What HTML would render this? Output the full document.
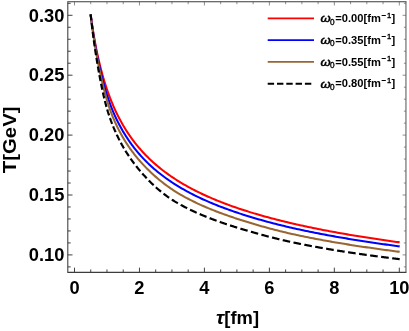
<!DOCTYPE html>
<html><head><meta charset="utf-8"><title>chart</title>
<style>
html,body{margin:0;padding:0;background:#fff;}
body{width:409px;height:331px;overflow:hidden;position:relative;font-family:"Liberation Sans",sans-serif;}
svg text{font-family:"Liberation Sans",sans-serif;font-weight:bold;fill:#000;}
.tk{font-size:18.3px;}
.lg{font-size:11.15px;}
.tl{stroke:#383838;stroke-width:0.95;}
.tr{stroke:#6a6a6a;stroke-width:0.75;}
</style></head><body>
<svg width="409" height="331" viewBox="0 0 409 331" style="position:absolute;left:0;top:0;opacity:0.999;will-change:transform">
<rect width="409" height="331" fill="#fff"/>
<line x1="67.8" y1="266.88" x2="70.70" y2="266.88" class="tl"/>
<line x1="405.95" y1="266.88" x2="403.86" y2="266.88" class="tr"/>
<line x1="67.8" y1="254.90" x2="72.50" y2="254.90" class="tl"/>
<line x1="405.95" y1="254.90" x2="402.57" y2="254.90" class="tr"/>
<line x1="67.8" y1="242.92" x2="70.70" y2="242.92" class="tl"/>
<line x1="405.95" y1="242.92" x2="403.86" y2="242.92" class="tr"/>
<line x1="67.8" y1="230.94" x2="70.70" y2="230.94" class="tl"/>
<line x1="405.95" y1="230.94" x2="403.86" y2="230.94" class="tr"/>
<line x1="67.8" y1="218.96" x2="70.70" y2="218.96" class="tl"/>
<line x1="405.95" y1="218.96" x2="403.86" y2="218.96" class="tr"/>
<line x1="67.8" y1="206.98" x2="70.70" y2="206.98" class="tl"/>
<line x1="405.95" y1="206.98" x2="403.86" y2="206.98" class="tr"/>
<line x1="67.8" y1="195.00" x2="72.50" y2="195.00" class="tl"/>
<line x1="405.95" y1="195.00" x2="402.57" y2="195.00" class="tr"/>
<line x1="67.8" y1="183.02" x2="70.70" y2="183.02" class="tl"/>
<line x1="405.95" y1="183.02" x2="403.86" y2="183.02" class="tr"/>
<line x1="67.8" y1="171.04" x2="70.70" y2="171.04" class="tl"/>
<line x1="405.95" y1="171.04" x2="403.86" y2="171.04" class="tr"/>
<line x1="67.8" y1="159.06" x2="70.70" y2="159.06" class="tl"/>
<line x1="405.95" y1="159.06" x2="403.86" y2="159.06" class="tr"/>
<line x1="67.8" y1="147.08" x2="70.70" y2="147.08" class="tl"/>
<line x1="405.95" y1="147.08" x2="403.86" y2="147.08" class="tr"/>
<line x1="67.8" y1="135.10" x2="72.50" y2="135.10" class="tl"/>
<line x1="405.95" y1="135.10" x2="402.57" y2="135.10" class="tr"/>
<line x1="67.8" y1="123.12" x2="70.70" y2="123.12" class="tl"/>
<line x1="405.95" y1="123.12" x2="403.86" y2="123.12" class="tr"/>
<line x1="67.8" y1="111.14" x2="70.70" y2="111.14" class="tl"/>
<line x1="405.95" y1="111.14" x2="403.86" y2="111.14" class="tr"/>
<line x1="67.8" y1="99.16" x2="70.70" y2="99.16" class="tl"/>
<line x1="405.95" y1="99.16" x2="403.86" y2="99.16" class="tr"/>
<line x1="67.8" y1="87.18" x2="70.70" y2="87.18" class="tl"/>
<line x1="405.95" y1="87.18" x2="403.86" y2="87.18" class="tr"/>
<line x1="67.8" y1="75.20" x2="72.50" y2="75.20" class="tl"/>
<line x1="405.95" y1="75.20" x2="402.57" y2="75.20" class="tr"/>
<line x1="67.8" y1="63.22" x2="70.70" y2="63.22" class="tl"/>
<line x1="405.95" y1="63.22" x2="403.86" y2="63.22" class="tr"/>
<line x1="67.8" y1="51.24" x2="70.70" y2="51.24" class="tl"/>
<line x1="405.95" y1="51.24" x2="403.86" y2="51.24" class="tr"/>
<line x1="67.8" y1="39.26" x2="70.70" y2="39.26" class="tl"/>
<line x1="405.95" y1="39.26" x2="403.86" y2="39.26" class="tr"/>
<line x1="67.8" y1="27.28" x2="70.70" y2="27.28" class="tl"/>
<line x1="405.95" y1="27.28" x2="403.86" y2="27.28" class="tr"/>
<line x1="67.8" y1="15.30" x2="72.50" y2="15.30" class="tl"/>
<line x1="405.95" y1="15.30" x2="402.57" y2="15.30" class="tr"/>
<line x1="67.8" y1="3.32" x2="70.70" y2="3.32" class="tl"/>
<line x1="405.95" y1="3.32" x2="403.86" y2="3.32" class="tr"/>
<line x1="74.50" y1="272.35" x2="74.50" y2="267.65" class="tl"/>
<line x1="74.50" y1="1.7" x2="74.50" y2="5.48" class="tr"/>
<line x1="90.74" y1="272.35" x2="90.74" y2="269.45" class="tl"/>
<line x1="90.74" y1="1.7" x2="90.74" y2="4.19" class="tr"/>
<line x1="106.98" y1="272.35" x2="106.98" y2="269.45" class="tl"/>
<line x1="106.98" y1="1.7" x2="106.98" y2="4.19" class="tr"/>
<line x1="123.22" y1="272.35" x2="123.22" y2="269.45" class="tl"/>
<line x1="123.22" y1="1.7" x2="123.22" y2="4.19" class="tr"/>
<line x1="139.46" y1="272.35" x2="139.46" y2="267.65" class="tl"/>
<line x1="139.46" y1="1.7" x2="139.46" y2="5.48" class="tr"/>
<line x1="155.70" y1="272.35" x2="155.70" y2="269.45" class="tl"/>
<line x1="155.70" y1="1.7" x2="155.70" y2="4.19" class="tr"/>
<line x1="171.94" y1="272.35" x2="171.94" y2="269.45" class="tl"/>
<line x1="171.94" y1="1.7" x2="171.94" y2="4.19" class="tr"/>
<line x1="188.18" y1="272.35" x2="188.18" y2="269.45" class="tl"/>
<line x1="188.18" y1="1.7" x2="188.18" y2="4.19" class="tr"/>
<line x1="204.42" y1="272.35" x2="204.42" y2="267.65" class="tl"/>
<line x1="204.42" y1="1.7" x2="204.42" y2="5.48" class="tr"/>
<line x1="220.66" y1="272.35" x2="220.66" y2="269.45" class="tl"/>
<line x1="220.66" y1="1.7" x2="220.66" y2="4.19" class="tr"/>
<line x1="236.90" y1="272.35" x2="236.90" y2="269.45" class="tl"/>
<line x1="236.90" y1="1.7" x2="236.90" y2="4.19" class="tr"/>
<line x1="253.14" y1="272.35" x2="253.14" y2="269.45" class="tl"/>
<line x1="253.14" y1="1.7" x2="253.14" y2="4.19" class="tr"/>
<line x1="269.38" y1="272.35" x2="269.38" y2="267.65" class="tl"/>
<line x1="269.38" y1="1.7" x2="269.38" y2="5.48" class="tr"/>
<line x1="285.62" y1="272.35" x2="285.62" y2="269.45" class="tl"/>
<line x1="285.62" y1="1.7" x2="285.62" y2="4.19" class="tr"/>
<line x1="301.86" y1="272.35" x2="301.86" y2="269.45" class="tl"/>
<line x1="301.86" y1="1.7" x2="301.86" y2="4.19" class="tr"/>
<line x1="318.10" y1="272.35" x2="318.10" y2="269.45" class="tl"/>
<line x1="318.10" y1="1.7" x2="318.10" y2="4.19" class="tr"/>
<line x1="334.34" y1="272.35" x2="334.34" y2="267.65" class="tl"/>
<line x1="334.34" y1="1.7" x2="334.34" y2="5.48" class="tr"/>
<line x1="350.58" y1="272.35" x2="350.58" y2="269.45" class="tl"/>
<line x1="350.58" y1="1.7" x2="350.58" y2="4.19" class="tr"/>
<line x1="366.82" y1="272.35" x2="366.82" y2="269.45" class="tl"/>
<line x1="366.82" y1="1.7" x2="366.82" y2="4.19" class="tr"/>
<line x1="383.06" y1="272.35" x2="383.06" y2="269.45" class="tl"/>
<line x1="383.06" y1="1.7" x2="383.06" y2="4.19" class="tr"/>
<line x1="399.30" y1="272.35" x2="399.30" y2="267.65" class="tl"/>
<line x1="399.30" y1="1.7" x2="399.30" y2="5.48" class="tr"/>
<path d="M406.45,1.7 H67.8 V272.35 H406.45" fill="none" stroke="#3c3c3c" stroke-width="1.05"/>
<line x1="405.95" y1="1.7" x2="405.95" y2="272.35" stroke="#5a5a5a" stroke-width="1.05"/>
<path d="M90.62,14.38 L91.03,17.39 L91.44,20.30 L91.85,23.12 L92.26,25.85 L92.67,28.50 L93.08,31.07 L93.49,33.56 L93.90,35.98 L94.31,38.34 L94.72,40.63 L95.13,42.86 L95.54,45.03 L95.95,47.15 L96.36,49.21 L96.77,51.22 L97.18,53.18 L97.59,55.10 L98.00,56.97 L98.42,58.80 L98.83,60.59 L99.24,62.33 L99.65,64.04 L100.06,65.72 L100.47,67.35 L100.88,68.95 L101.29,70.52 L101.70,72.06 L102.11,73.57 L102.52,75.05 L102.93,76.50 L103.34,77.92 L103.75,79.31 L104.16,80.68 L104.57,82.02 L104.98,83.34 L105.39,84.64 L105.80,85.91 L106.21,87.16 L106.62,88.39 L107.03,89.60 L107.44,90.79 L107.86,91.96 L108.27,93.11 L108.68,94.24 L109.09,95.36 L109.50,96.45 L109.91,97.53 L110.32,98.60 L110.73,99.64 L111.14,100.67 L111.55,101.69 L111.96,102.69 L112.37,103.68 L112.78,104.65 L113.19,105.61 L113.60,106.55 L114.01,107.48 L114.42,108.40 L114.83,109.31 L115.24,110.20 L115.65,111.09 L116.06,111.96 L116.47,112.82 L116.89,113.66 L117.30,114.50 L117.71,115.33 L118.12,116.14 L118.53,116.95 L118.94,117.75 L119.35,118.53 L119.76,119.31 L120.17,120.08 L120.58,120.83 L120.99,121.58 L121.40,122.32 L121.81,123.06 L122.22,123.78 L122.63,124.49 L123.04,125.20 L123.45,125.90 L123.86,126.59 L124.27,127.28 L124.68,127.95 L125.09,128.62 L125.50,129.28 L125.92,129.94 L126.33,130.59 L126.74,131.23 L127.15,131.86 L127.56,132.49 L127.97,133.11 L128.38,133.73 L128.79,134.33 L129.20,134.94 L129.61,135.53 L130.02,136.13 L130.43,136.71 L130.84,137.29 L131.25,137.86 L131.66,138.43 L132.07,138.99 L132.48,139.55 L132.89,140.10 L133.30,140.65 L133.71,141.19 L134.12,141.73 L134.53,142.26 L134.95,142.79 L135.36,143.31 L135.77,143.83 L136.18,144.34 L136.59,144.85 L137.00,145.36 L137.41,145.86 L137.82,146.35 L138.23,146.84 L138.64,147.33 L139.05,147.81 L139.46,148.29 L141.10,150.16 L142.73,151.97 L144.37,153.72 L146.01,155.42 L147.64,157.07 L149.28,158.67 L150.92,160.22 L152.55,161.73 L154.19,163.20 L155.83,164.63 L157.46,166.02 L159.10,167.38 L160.74,168.70 L162.37,169.98 L164.01,171.24 L165.65,172.46 L167.28,173.66 L168.92,174.83 L170.56,175.97 L172.19,177.09 L173.83,178.18 L175.47,179.24 L177.10,180.29 L178.74,181.31 L180.38,182.31 L182.01,183.30 L183.65,184.26 L185.29,185.20 L186.92,186.12 L188.56,187.03 L190.20,187.92 L191.83,188.79 L193.47,189.65 L195.11,190.49 L196.74,191.31 L198.38,192.13 L200.02,192.92 L201.65,193.71 L203.29,194.48 L204.93,195.23 L206.56,195.98 L208.20,196.71 L209.84,197.43 L211.47,198.14 L213.11,198.84 L214.75,199.52 L216.38,200.20 L218.02,200.87 L219.66,201.52 L221.29,202.17 L222.93,202.80 L224.57,203.43 L226.20,204.05 L227.84,204.66 L229.48,205.26 L231.11,205.85 L232.75,206.44 L234.39,207.01 L236.02,207.58 L237.66,208.14 L239.30,208.69 L240.93,209.24 L242.57,209.78 L244.21,210.31 L245.84,210.84 L247.48,211.35 L249.12,211.87 L250.75,212.37 L252.39,212.87 L254.03,213.36 L255.66,213.85 L257.30,214.33 L258.94,214.81 L260.57,215.28 L262.21,215.74 L263.85,216.20 L265.48,216.66 L267.12,217.11 L268.76,217.55 L270.39,217.99 L272.03,218.42 L273.67,218.85 L275.30,219.28 L276.94,219.70 L278.58,220.11 L280.21,220.52 L281.85,220.93 L283.49,221.33 L285.12,221.73 L286.76,222.12 L288.40,222.51 L290.03,222.90 L291.67,223.28 L293.31,223.66 L294.94,224.04 L296.58,224.41 L298.22,224.77 L299.85,225.14 L301.49,225.50 L303.13,225.86 L304.76,226.21 L306.40,226.56 L308.04,226.91 L309.67,227.25 L311.31,227.59 L312.95,227.93 L314.58,228.26 L316.22,228.59 L317.86,228.92 L319.49,229.25 L321.13,229.57 L322.77,229.89 L324.40,230.21 L326.04,230.52 L327.68,230.83 L329.31,231.14 L330.95,231.45 L332.59,231.75 L334.22,232.05 L335.86,232.35 L337.50,232.64 L339.13,232.94 L340.77,233.23 L342.41,233.52 L344.04,233.80 L345.68,234.09 L347.32,234.37 L348.95,234.65 L350.59,234.93 L352.23,235.20 L353.86,235.48 L355.50,235.75 L357.14,236.01 L358.77,236.28 L360.41,236.55 L362.05,236.81 L363.68,237.07 L365.32,237.33 L366.96,237.58 L368.59,237.84 L370.23,238.09 L371.87,238.34 L373.50,238.59 L375.14,238.84 L376.78,239.09 L378.41,239.33 L380.05,239.57 L381.69,239.81 L383.32,240.05 L384.96,240.29 L386.60,240.52 L388.23,240.76 L389.87,240.99 L391.51,241.22 L393.14,241.45 L394.78,241.68 L396.42,241.90 L398.05,242.13 L399.69,242.35" fill="none" stroke="#ff0000" stroke-width="2.05" stroke-linejoin="round"/>
<path d="M90.62,14.38 L91.03,17.54 L91.44,20.65 L91.85,23.67 L92.26,26.59 L92.67,29.42 L93.08,32.17 L93.49,34.84 L93.90,37.43 L94.31,39.95 L94.72,42.40 L95.13,44.78 L95.54,47.10 L95.95,49.36 L96.36,51.57 L96.77,53.71 L97.18,55.81 L97.59,57.86 L98.00,59.86 L98.42,61.81 L98.83,63.72 L99.24,65.58 L99.65,67.42 L100.06,69.22 L100.47,70.98 L100.88,72.71 L101.29,74.41 L101.70,76.08 L102.11,77.71 L102.52,79.31 L102.93,80.89 L103.34,82.43 L103.75,83.94 L104.16,85.43 L104.57,86.88 L104.98,88.31 L105.39,89.71 L105.80,91.09 L106.21,92.44 L106.62,93.76 L107.03,95.06 L107.44,96.33 L107.86,97.58 L108.27,98.80 L108.68,100.01 L109.09,101.19 L109.50,102.34 L109.91,103.48 L110.32,104.59 L110.73,105.69 L111.14,106.76 L111.55,107.81 L111.96,108.85 L112.37,109.86 L112.78,110.86 L113.19,111.83 L113.60,112.79 L114.01,113.73 L114.42,114.66 L114.83,115.57 L115.24,116.46 L115.65,117.35 L116.06,118.22 L116.47,119.08 L116.89,119.93 L117.30,120.76 L117.71,121.59 L118.12,122.40 L118.53,123.21 L118.94,124.00 L119.35,124.79 L119.76,125.56 L120.17,126.33 L120.58,127.08 L120.99,127.83 L121.40,128.57 L121.81,129.29 L122.22,130.01 L122.63,130.72 L123.04,131.43 L123.45,132.12 L123.86,132.81 L124.27,133.49 L124.68,134.16 L125.09,134.82 L125.50,135.48 L125.92,136.13 L126.33,136.77 L126.74,137.41 L127.15,138.04 L127.56,138.66 L127.97,139.27 L128.38,139.88 L128.79,140.49 L129.20,141.08 L129.61,141.67 L130.02,142.26 L130.43,142.84 L130.84,143.41 L131.25,143.98 L131.66,144.54 L132.07,145.09 L132.48,145.64 L132.89,146.19 L133.30,146.73 L133.71,147.26 L134.12,147.79 L134.53,148.32 L134.95,148.84 L135.36,149.36 L135.77,149.87 L136.18,150.37 L136.59,150.87 L137.00,151.37 L137.41,151.86 L137.82,152.35 L138.23,152.83 L138.64,153.31 L139.05,153.79 L139.46,154.26 L141.10,156.10 L142.73,157.88 L144.37,159.60 L146.01,161.27 L147.64,162.89 L149.28,164.46 L150.92,165.98 L152.55,167.46 L154.19,168.90 L155.83,170.30 L157.46,171.67 L159.10,172.99 L160.74,174.28 L162.37,175.54 L164.01,176.77 L165.65,177.97 L167.28,179.14 L168.92,180.28 L170.56,181.39 L172.19,182.48 L173.83,183.55 L175.47,184.59 L177.10,185.61 L178.74,186.61 L180.38,187.58 L182.01,188.54 L183.65,189.48 L185.29,190.40 L186.92,191.30 L188.56,192.18 L190.20,193.05 L191.83,193.90 L193.47,194.74 L195.11,195.56 L196.74,196.36 L198.38,197.16 L200.02,197.93 L201.65,198.70 L203.29,199.45 L204.93,200.19 L206.56,200.92 L208.20,201.63 L209.84,202.33 L211.47,203.03 L213.11,203.71 L214.75,204.38 L216.38,205.04 L218.02,205.69 L219.66,206.33 L221.29,206.96 L222.93,207.58 L224.57,208.20 L226.20,208.80 L227.84,209.40 L229.48,209.99 L231.11,210.56 L232.75,211.14 L234.39,211.70 L236.02,212.26 L237.66,212.81 L239.30,213.35 L240.93,213.89 L242.57,214.42 L244.21,214.94 L245.84,215.46 L247.48,215.97 L249.12,216.48 L250.75,216.98 L252.39,217.47 L254.03,217.96 L255.66,218.45 L257.30,218.92 L258.94,219.40 L260.57,219.86 L262.21,220.33 L263.85,220.78 L265.48,221.23 L267.12,221.68 L268.76,222.12 L270.39,222.56 L272.03,222.99 L273.67,223.42 L275.30,223.84 L276.94,224.25 L278.58,224.67 L280.21,225.07 L281.85,225.48 L283.49,225.87 L285.12,226.27 L286.76,226.66 L288.40,227.04 L290.03,227.42 L291.67,227.80 L293.31,228.17 L294.94,228.54 L296.58,228.91 L298.22,229.27 L299.85,229.62 L301.49,229.97 L303.13,230.32 L304.76,230.67 L306.40,231.01 L308.04,231.35 L309.67,231.68 L311.31,232.02 L312.95,232.35 L314.58,232.67 L316.22,233.00 L317.86,233.32 L319.49,233.63 L321.13,233.95 L322.77,234.26 L324.40,234.57 L326.04,234.88 L327.68,235.18 L329.31,235.48 L330.95,235.78 L332.59,236.08 L334.22,236.37 L335.86,236.66 L337.50,236.95 L339.13,237.24 L340.77,237.52 L342.41,237.80 L344.04,238.08 L345.68,238.36 L347.32,238.63 L348.95,238.90 L350.59,239.17 L352.23,239.44 L353.86,239.71 L355.50,239.97 L357.14,240.23 L358.77,240.49 L360.41,240.75 L362.05,241.00 L363.68,241.26 L365.32,241.51 L366.96,241.76 L368.59,242.01 L370.23,242.25 L371.87,242.50 L373.50,242.74 L375.14,242.98 L376.78,243.22 L378.41,243.46 L380.05,243.69 L381.69,243.92 L383.32,244.16 L384.96,244.39 L386.60,244.61 L388.23,244.84 L389.87,245.07 L391.51,245.29 L393.14,245.51 L394.78,245.73 L396.42,245.95 L398.05,246.17 L399.69,246.39" fill="none" stroke="#0000ff" stroke-width="2.05" stroke-linejoin="round"/>
<path d="M90.62,14.38 L91.03,17.65 L91.44,20.93 L91.85,24.10 L92.26,27.17 L92.67,30.16 L93.08,33.06 L93.49,35.88 L93.90,38.62 L94.31,41.28 L94.72,43.88 L95.13,46.41 L95.54,48.87 L95.95,51.27 L96.36,53.61 L96.77,55.89 L97.18,58.12 L97.59,60.30 L98.00,62.42 L98.42,64.50 L98.83,66.53 L99.24,68.53 L99.65,70.49 L100.06,72.42 L100.47,74.33 L100.88,76.20 L101.29,78.04 L101.70,79.84 L102.11,81.62 L102.52,83.36 L102.93,85.07 L103.34,86.74 L103.75,88.39 L104.16,90.00 L104.57,91.57 L104.98,93.12 L105.39,94.63 L105.80,96.11 L106.21,97.56 L106.62,98.98 L107.03,100.37 L107.44,101.73 L107.86,103.06 L108.27,104.36 L108.68,105.62 L109.09,106.86 L109.50,108.07 L109.91,109.26 L110.32,110.41 L110.73,111.54 L111.14,112.64 L111.55,113.72 L111.96,114.76 L112.37,115.79 L112.78,116.79 L113.19,117.78 L113.60,118.76 L114.01,119.72 L114.42,120.66 L114.83,121.59 L115.24,122.50 L115.65,123.41 L116.06,124.29 L116.47,125.17 L116.89,126.03 L117.30,126.88 L117.71,127.71 L118.12,128.54 L118.53,129.35 L118.94,130.15 L119.35,130.95 L119.76,131.73 L120.17,132.50 L120.58,133.26 L120.99,134.01 L121.40,134.75 L121.81,135.48 L122.22,136.21 L122.63,136.92 L123.04,137.63 L123.45,138.32 L123.86,139.01 L124.27,139.69 L124.68,140.37 L125.09,141.03 L125.50,141.69 L125.92,142.34 L126.33,142.98 L126.74,143.62 L127.15,144.25 L127.56,144.87 L127.97,145.49 L128.38,146.09 L128.79,146.70 L129.20,147.29 L129.61,147.88 L130.02,148.47 L130.43,149.05 L130.84,149.62 L131.25,150.19 L131.66,150.75 L132.07,151.31 L132.48,151.86 L132.89,152.40 L133.30,152.94 L133.71,153.48 L134.12,154.01 L134.53,154.54 L134.95,155.06 L135.36,155.57 L135.77,156.09 L136.18,156.59 L136.59,157.10 L137.00,157.59 L137.41,158.09 L137.82,158.58 L138.23,159.07 L138.64,159.55 L139.05,160.03 L139.46,160.50 L141.10,162.36 L142.73,164.15 L144.37,165.90 L146.01,167.59 L147.64,169.23 L149.28,170.84 L150.92,172.40 L152.55,173.93 L154.19,175.42 L155.83,176.87 L157.46,178.28 L159.10,179.66 L160.74,181.01 L162.37,182.31 L164.01,183.59 L165.65,184.83 L167.28,186.03 L168.92,187.20 L170.56,188.34 L172.19,189.45 L173.83,190.53 L175.47,191.57 L177.10,192.59 L178.74,193.58 L180.38,194.53 L182.01,195.47 L183.65,196.38 L185.29,197.28 L186.92,198.16 L188.56,199.02 L190.20,199.86 L191.83,200.68 L193.47,201.49 L195.11,202.29 L196.74,203.07 L198.38,203.83 L200.02,204.58 L201.65,205.32 L203.29,206.05 L204.93,206.76 L206.56,207.46 L208.20,208.15 L209.84,208.83 L211.47,209.50 L213.11,210.15 L214.75,210.80 L216.38,211.44 L218.02,212.07 L219.66,212.69 L221.29,213.30 L222.93,213.90 L224.57,214.49 L226.20,215.07 L227.84,215.65 L229.48,216.22 L231.11,216.78 L232.75,217.33 L234.39,217.88 L236.02,218.42 L237.66,218.95 L239.30,219.48 L240.93,220.00 L242.57,220.52 L244.21,221.03 L245.84,221.54 L247.48,222.04 L249.12,222.55 L250.75,223.04 L252.39,223.54 L254.03,224.02 L255.66,224.51 L257.30,224.99 L258.94,225.46 L260.57,225.93 L262.21,226.40 L263.85,226.86 L265.48,227.31 L267.12,227.76 L268.76,228.21 L270.39,228.65 L272.03,229.08 L273.67,229.51 L275.30,229.93 L276.94,230.35 L278.58,230.77 L280.21,231.18 L281.85,231.58 L283.49,231.98 L285.12,232.37 L286.76,232.76 L288.40,233.14 L290.03,233.52 L291.67,233.89 L293.31,234.26 L294.94,234.62 L296.58,234.98 L298.22,235.33 L299.85,235.68 L301.49,236.02 L303.13,236.35 L304.76,236.69 L306.40,237.02 L308.04,237.34 L309.67,237.67 L311.31,237.99 L312.95,238.31 L314.58,238.62 L316.22,238.94 L317.86,239.24 L319.49,239.55 L321.13,239.86 L322.77,240.16 L324.40,240.45 L326.04,240.75 L327.68,241.04 L329.31,241.33 L330.95,241.62 L332.59,241.91 L334.22,242.19 L335.86,242.47 L337.50,242.75 L339.13,243.02 L340.77,243.30 L342.41,243.57 L344.04,243.84 L345.68,244.10 L347.32,244.37 L348.95,244.63 L350.59,244.89 L352.23,245.15 L353.86,245.40 L355.50,245.65 L357.14,245.91 L358.77,246.16 L360.41,246.40 L362.05,246.65 L363.68,246.89 L365.32,247.13 L366.96,247.37 L368.59,247.61 L370.23,247.85 L371.87,248.08 L373.50,248.32 L375.14,248.55 L376.78,248.78 L378.41,249.00 L380.05,249.23 L381.69,249.45 L383.32,249.68 L384.96,249.90 L386.60,250.11 L388.23,250.33 L389.87,250.55 L391.51,250.76 L393.14,250.98 L394.78,251.19 L396.42,251.40 L398.05,251.61 L399.69,251.81" fill="none" stroke="#996633" stroke-width="2.05" stroke-linejoin="round"/>
<path d="M90.62,14.38 L90.74,15.29 L90.86,16.40 L90.98,17.50 L91.11,18.58 L91.23,19.66 L91.31,20.39 M91.63,23.09 L91.72,23.87 L91.84,24.90 L91.96,25.92 L92.09,26.93 L92.21,27.93 L92.33,28.92 L92.35,29.09 M92.69,31.78 L92.70,31.84 L92.82,32.80 L92.94,33.75 L93.06,34.69 L93.19,35.62 L93.31,36.55 L93.43,37.47 L93.47,37.78 M93.84,40.47 L93.92,41.06 L94.04,41.94 L94.17,42.82 L94.29,43.68 L94.41,44.54 L94.53,45.40 L94.66,46.24 L94.69,46.47 M95.09,49.15 L95.15,49.56 L95.27,50.38 L95.39,51.18 L95.51,51.98 L95.64,52.78 L95.76,53.57 L95.88,54.35 L96.00,55.13 L96.00,55.14 M96.43,57.83 L96.49,58.19 L96.61,58.94 L96.74,59.68 L96.86,60.42 L96.98,61.16 L97.10,61.89 L97.23,62.62 L97.35,63.35 L97.43,63.81 M97.88,66.49 L97.96,66.94 L98.08,67.65 L98.21,68.35 L98.33,69.05 L98.45,69.75 L98.57,70.44 L98.70,71.13 L98.82,71.81 L98.93,72.46 M99.42,75.14 L99.43,75.19 L99.55,75.85 L99.68,76.51 L99.80,77.16 L99.92,77.82 L100.04,78.46 L100.16,79.11 L100.29,79.75 L100.41,80.38 L100.53,81.01 L100.55,81.11 M101.08,83.78 L101.14,84.11 L101.27,84.72 L101.39,85.32 L101.51,85.92 L101.63,86.51 L101.76,87.10 L101.88,87.69 L102.00,88.27 L102.12,88.85 L102.25,89.43 L102.31,89.74 M102.89,92.40 L102.98,92.79 L103.10,93.34 L103.23,93.88 L103.35,94.42 L103.47,94.95 L103.59,95.48 L103.71,96.01 L103.84,96.53 L103.96,97.05 L104.08,97.57 L104.20,98.08 L104.27,98.34 M104.92,101.00 L104.94,101.06 L105.06,101.54 L105.18,102.02 L105.31,102.50 L105.43,102.97 L105.55,103.44 L105.67,103.90 L105.80,104.36 L105.92,104.82 L106.04,105.27 L106.16,105.72 L106.29,106.17 L106.41,106.61 L106.49,106.90 M107.25,109.54 L107.26,109.60 L107.39,110.01 L107.51,110.42 L107.63,110.82 L107.75,111.23 L107.88,111.62 L108.00,112.02 L108.12,112.41 L108.24,112.80 L108.37,113.18 L108.49,113.56 L108.61,113.94 L108.73,114.31 L108.86,114.69 L108.98,115.05 L109.09,115.40 M109.99,118.01 L110.08,118.25 L110.20,118.60 L110.33,118.94 L110.45,119.29 L110.57,119.62 L110.69,119.96 L110.81,120.30 L110.94,120.63 L111.06,120.96 L111.18,121.29 L111.30,121.62 L111.43,121.95 L111.55,122.27 L111.67,122.59 L111.79,122.92 L111.92,123.24 L112.04,123.55 L112.14,123.80 M113.16,126.39 L113.26,126.64 L113.39,126.94 L113.51,127.23 L113.63,127.53 L113.75,127.83 L113.88,128.12 L114.00,128.41 L114.12,128.70 L114.24,128.99 L114.37,129.28 L114.49,129.57 L114.61,129.85 L114.73,130.14 L114.85,130.42 L114.98,130.70 L115.10,130.98 L115.22,131.26 L115.34,131.53 L115.47,131.81 L115.59,132.08 L115.60,132.11 M116.77,134.66 L116.81,134.76 L116.94,135.02 L117.06,135.28 L117.18,135.54 L117.30,135.79 L117.43,136.05 L117.55,136.31 L117.67,136.56 L117.79,136.81 L117.92,137.06 L118.04,137.31 L118.16,137.56 L118.28,137.81 L118.40,138.06 L118.53,138.31 L118.65,138.55 L118.77,138.80 L118.89,139.04 L119.02,139.28 L119.14,139.52 L119.26,139.76 L119.38,140.00 L119.51,140.24 L119.53,140.29 M120.85,142.80 L120.85,142.80 L120.98,143.03 L121.10,143.26 L121.22,143.48 L121.34,143.71 L121.47,143.93 L121.59,144.15 L121.71,144.38 L121.83,144.60 L121.95,144.82 L122.08,145.04 L122.20,145.26 L122.32,145.47 L122.44,145.69 L122.57,145.91 L122.69,146.12 L122.81,146.34 L122.93,146.55 L123.06,146.77 L123.18,146.98 L123.30,147.19 L123.42,147.40 L123.55,147.61 L123.67,147.82 L123.79,148.03 L123.91,148.24 L123.96,148.31 M125.44,150.76 L125.50,150.88 L125.63,151.08 L125.75,151.27 L125.87,151.47 L125.99,151.67 L126.12,151.86 L126.24,152.06 L126.36,152.25 L126.48,152.45 L126.61,152.64 L126.73,152.83 L126.85,153.02 L126.97,153.21 L127.10,153.40 L127.22,153.59 L127.34,153.78 L127.46,153.97 L127.59,154.16 L127.71,154.35 L127.83,154.54 L127.95,154.72 L128.08,154.91 L128.20,155.09 L128.32,155.28 L128.44,155.46 L128.57,155.65 L128.69,155.83 L128.81,156.01 L128.90,156.15 M130.54,158.54 L130.65,158.69 L130.77,158.86 L130.89,159.04 L131.01,159.21 L131.14,159.38 L131.26,159.56 L131.38,159.73 L131.50,159.90 L131.63,160.07 L131.75,160.24 L131.87,160.41 L131.99,160.58 L132.12,160.75 L132.24,160.92 L132.36,161.09 L132.48,161.25 L132.60,161.42 L132.73,161.59 L132.85,161.75 L132.97,161.92 L133.09,162.09 L133.22,162.25 L133.34,162.41 L133.46,162.58 L133.58,162.74 L133.71,162.91 L133.83,163.07 L133.95,163.23 L134.07,163.39 L134.20,163.55 L134.32,163.72 L134.37,163.78 M136.16,166.09 L136.28,166.24 L136.40,166.39 L136.52,166.55 L136.64,166.70 L136.77,166.86 L136.89,167.01 L137.01,167.16 L137.13,167.31 L137.26,167.47 L137.38,167.62 L137.50,167.77 L137.62,167.92 L137.75,168.07 L137.87,168.22 L137.99,168.37 L138.11,168.52 L138.24,168.67 L138.36,168.82 L138.48,168.97 L138.60,169.11 L138.73,169.26 L138.85,169.41 L138.97,169.56 L139.09,169.70 L139.22,169.85 L139.34,169.99 L139.46,170.14 L139.89,170.66 L140.33,171.17 L140.33,171.17 M142.27,173.42 L142.50,173.68 L142.94,174.17 L143.37,174.65 L143.80,175.14 L144.24,175.62 L144.67,176.10 L145.11,176.57 L145.54,177.04 L145.98,177.51 L146.41,177.97 L146.75,178.33 M148.83,180.50 L149.02,180.69 L149.45,181.13 L149.89,181.56 L150.32,182.00 L150.76,182.43 L151.19,182.85 L151.62,183.28 L152.06,183.70 L152.49,184.11 L152.93,184.53 L153.36,184.94 L153.65,185.21 M155.90,187.27 L155.97,187.33 L156.40,187.72 L156.84,188.10 L157.27,188.48 L157.71,188.86 L158.14,189.24 L158.58,189.61 L159.01,189.98 L159.44,190.34 L159.88,190.70 L160.31,191.06 L160.75,191.42 L161.12,191.72 M163.55,193.65 L163.79,193.83 L164.22,194.17 L164.66,194.50 L165.09,194.82 L165.53,195.15 L165.96,195.47 L166.40,195.79 L166.83,196.10 L167.26,196.42 L167.70,196.73 L168.13,197.04 L168.57,197.34 L169.00,197.64 L169.19,197.77 M171.82,199.54 L172.04,199.69 L172.48,199.97 L172.91,200.25 L173.35,200.53 L173.78,200.80 L174.22,201.07 L174.65,201.34 L175.08,201.61 L175.52,201.87 L175.95,202.14 L176.39,202.40 L176.82,202.65 L177.26,202.91 L177.69,203.16 L177.88,203.27 M180.70,204.85 L180.73,204.87 L181.17,205.10 L181.60,205.34 L182.04,205.57 L182.47,205.80 L182.90,206.03 L183.34,206.26 L183.77,206.49 L184.21,206.72 L184.64,206.94 L185.08,207.17 L185.51,207.39 L185.95,207.61 L186.38,207.83 L186.81,208.05 L187.12,208.21 M190.06,209.65 L190.29,209.76 L190.72,209.97 L191.16,210.18 L191.59,210.38 L192.03,210.59 L192.46,210.79 L192.90,211.00 L193.33,211.20 L193.77,211.40 L194.20,211.60 L194.63,211.80 L195.07,212.00 L195.50,212.20 L195.94,212.39 L196.37,212.59 L196.70,212.73 M199.73,214.06 L199.85,214.11 L200.28,214.30 L200.72,214.49 L201.15,214.67 L201.58,214.86 L202.02,215.04 L202.45,215.22 L202.89,215.40 L203.32,215.58 L203.76,215.76 L204.19,215.94 L204.63,216.12 L205.06,216.30 L205.49,216.48 L205.93,216.65 L206.36,216.83 L206.55,216.90 M209.64,218.12 L209.84,218.20 L210.27,218.37 L210.71,218.54 L211.14,218.70 L211.58,218.87 L212.01,219.04 L212.45,219.20 L212.88,219.37 L213.31,219.53 L213.75,219.69 L214.18,219.85 L214.62,220.02 L215.05,220.18 L215.49,220.34 L215.92,220.50 L216.36,220.66 L216.60,220.75 M219.75,221.88 L219.83,221.91 L220.27,222.06 L220.70,222.21 L221.13,222.37 L221.57,222.52 L222.00,222.67 L222.44,222.82 L222.87,222.97 L223.31,223.12 L223.74,223.27 L224.18,223.42 L224.61,223.57 L225.04,223.71 L225.48,223.86 L225.91,224.01 L226.35,224.15 L226.78,224.30 L226.83,224.31 M230.02,225.37 L230.26,225.44 L230.69,225.58 L231.13,225.72 L231.56,225.86 L232.00,226.00 L232.43,226.14 L232.86,226.28 L233.30,226.42 L233.73,226.56 L234.17,226.69 L234.60,226.83 L235.04,226.97 L235.47,227.10 L235.91,227.24 L236.34,227.37 L236.77,227.51 L237.18,227.63 M240.42,228.62 L240.68,228.70 L241.12,228.83 L241.55,228.96 L241.99,229.09 L242.42,229.22 L242.86,229.35 L243.29,229.48 L243.73,229.61 L244.16,229.74 L244.59,229.86 L245.03,229.99 L245.46,230.12 L245.90,230.25 L246.33,230.38 L246.77,230.51 L247.20,230.63 L247.64,230.76 L247.64,230.76 M250.89,231.71 L251.11,231.78 L251.55,231.90 L251.98,232.03 L252.41,232.15 L252.85,232.28 L253.28,232.40 L253.72,232.52 L254.15,232.65 L254.59,232.77 L255.02,232.89 L255.46,233.02 L255.89,233.14 L256.32,233.26 L256.76,233.39 L257.19,233.51 L257.63,233.63 L258.06,233.75 L258.15,233.78 M261.42,234.68 L261.54,234.71 L261.97,234.83 L262.41,234.95 L262.84,235.06 L263.28,235.18 L263.71,235.30 L264.14,235.42 L264.58,235.53 L265.01,235.65 L265.45,235.76 L265.88,235.88 L266.32,235.99 L266.75,236.11 L267.19,236.22 L267.62,236.34 L268.05,236.45 L268.49,236.57 L268.74,236.63 M272.03,237.48 L272.40,237.57 L272.83,237.68 L273.27,237.79 L273.70,237.90 L274.14,238.01 L274.57,238.12 L275.01,238.23 L275.44,238.34 L275.87,238.44 L276.31,238.55 L276.74,238.66 L277.18,238.76 L277.61,238.87 L278.05,238.98 L278.48,239.08 L278.92,239.19 L279.35,239.29 L279.40,239.30 M282.72,240.09 L282.83,240.12 L283.26,240.22 L283.69,240.32 L284.13,240.42 L284.56,240.52 L285.00,240.62 L285.43,240.72 L285.87,240.82 L286.30,240.92 L286.74,241.02 L287.17,241.11 L287.60,241.21 L288.04,241.31 L288.47,241.41 L288.91,241.50 L289.34,241.60 L289.78,241.70 L290.14,241.78 M293.49,242.50 L293.69,242.54 L294.12,242.64 L294.56,242.73 L294.99,242.82 L295.42,242.91 L295.86,243.00 L296.29,243.09 L296.73,243.18 L297.16,243.27 L297.60,243.36 L298.03,243.45 L298.47,243.54 L298.90,243.63 L299.33,243.72 L299.77,243.80 L300.20,243.89 L300.64,243.98 L300.96,244.04 M304.32,244.70 L304.55,244.75 L304.98,244.83 L305.42,244.91 L305.85,245.00 L306.29,245.08 L306.72,245.16 L307.15,245.25 L307.59,245.33 L308.02,245.41 L308.46,245.50 L308.89,245.58 L309.33,245.66 L309.76,245.74 L310.20,245.82 L310.63,245.91 L311.06,245.99 L311.50,246.07 L311.83,246.13 M315.21,246.75 L315.41,246.79 L315.84,246.87 L316.28,246.95 L316.71,247.02 L317.15,247.10 L317.58,247.18 L318.01,247.26 L318.45,247.34 L318.88,247.41 L319.32,247.49 L319.75,247.57 L320.19,247.65 L320.62,247.72 L321.06,247.80 L321.49,247.88 L321.92,247.95 L322.36,248.03 L322.75,248.10 M326.13,248.68 L326.27,248.71 L326.70,248.78 L327.14,248.85 L327.57,248.93 L328.01,249.00 L328.44,249.08 L328.88,249.15 L329.31,249.22 L329.74,249.30 L330.18,249.37 L330.61,249.44 L331.05,249.51 L331.48,249.59 L331.92,249.66 L332.35,249.73 L332.79,249.80 L333.22,249.87 L333.65,249.95 L333.69,249.95 M337.09,250.50 L337.13,250.51 L337.56,250.58 L338.00,250.65 L338.43,250.72 L338.87,250.79 L339.30,250.86 L339.74,250.93 L340.17,251.00 L340.61,251.07 L341.04,251.14 L341.47,251.20 L341.91,251.27 L342.34,251.34 L342.78,251.41 L343.21,251.48 L343.65,251.55 L344.08,251.61 L344.52,251.68 L344.66,251.70 M348.07,252.23 L348.43,252.28 L348.86,252.35 L349.29,252.41 L349.73,252.48 L350.16,252.54 L350.60,252.61 L351.03,252.67 L351.47,252.74 L351.90,252.80 L352.34,252.87 L352.77,252.93 L353.20,253.00 L353.64,253.06 L354.07,253.13 L354.51,253.19 L354.94,253.25 L355.38,253.32 L355.66,253.36 M359.07,253.86 L359.29,253.89 L359.72,253.95 L360.16,254.01 L360.59,254.07 L361.02,254.14 L361.46,254.20 L361.89,254.26 L362.33,254.32 L362.76,254.38 L363.20,254.44 L363.63,254.50 L364.07,254.57 L364.50,254.63 L364.93,254.69 L365.37,254.75 L365.80,254.81 L366.24,254.87 L366.67,254.93 L366.68,254.93 M370.10,255.40 L370.15,255.41 L370.58,255.47 L371.02,255.52 L371.45,255.58 L371.89,255.64 L372.32,255.70 L372.75,255.76 L373.19,255.82 L373.62,255.88 L374.06,255.93 L374.49,255.99 L374.93,256.05 L375.36,256.11 L375.80,256.16 L376.23,256.22 L376.66,256.28 L377.10,256.34 L377.53,256.39 L377.71,256.42 M381.14,256.86 L381.44,256.90 L381.88,256.96 L382.31,257.01 L382.75,257.07 L383.18,257.13 L383.62,257.18 L384.05,257.24 L384.48,257.29 L384.92,257.35 L385.35,257.40 L385.79,257.46 L386.22,257.51 L386.66,257.57 L387.09,257.62 L387.53,257.68 L387.96,257.73 L388.39,257.78 L388.77,257.83 M392.19,258.25 L392.30,258.27 L392.74,258.32 L393.17,258.37 L393.61,258.43 L394.04,258.48 L394.48,258.53 L394.91,258.59 L395.35,258.64 L395.78,258.69 L396.21,258.74 L396.65,258.79 L397.08,258.85 L397.52,258.90 L397.95,258.95 L398.39,259.00 L398.82,259.05 L399.26,259.11 L399.69,259.16" fill="none" stroke="#000000" stroke-width="2.2" stroke-linejoin="round"/>
<text x="64.4" y="261.15" text-anchor="end" class="tk">0.10</text>
<text x="64.4" y="201.25" text-anchor="end" class="tk">0.15</text>
<text x="64.4" y="141.35" text-anchor="end" class="tk">0.20</text>
<text x="64.4" y="81.45" text-anchor="end" class="tk">0.25</text>
<text x="64.4" y="21.55" text-anchor="end" class="tk">0.30</text>
<text x="74.50" y="293.8" text-anchor="middle" class="tk">0</text>
<text x="139.46" y="293.8" text-anchor="middle" class="tk">2</text>
<text x="204.42" y="293.8" text-anchor="middle" class="tk">4</text>
<text x="269.38" y="293.8" text-anchor="middle" class="tk">6</text>
<text x="334.34" y="293.8" text-anchor="middle" class="tk">8</text>
<text x="399.30" y="293.8" text-anchor="middle" class="tk">10</text>
<text transform="translate(15.8,139.85) rotate(-90) scale(1.064,1)" text-anchor="middle" class="al" style="font-size:19.1px">T[GeV]</text>
<text transform="translate(216.0,324.4) scale(1.08,1)" class="al" style="font-size:18.4px;font-style:italic">τ</text>
<text x="224.3" y="324.4" class="al" style="font-size:18.4px">[fm]</text>
<line x1="267.7" y1="18.3" x2="314" y2="18.3" stroke="#ff0000" stroke-width="1.8"/>
<text transform="translate(320.4,22.20) scale(1.3,1)" class="lg" style="font-size:10px;font-style:italic;font-weight:normal;stroke:#000;stroke-width:0.45px">ω</text>
<text x="330.0" y="24.60" class="lg" style="font-size:8.2px;font-weight:normal;stroke:#000;stroke-width:0.35px">0</text>
<text x="335.3" y="21.90" class="lg">=0.00[fm</text>
<text x="381.5" y="17.50" class="lg" style="font-size:7.6px;font-weight:normal;stroke:#000;stroke-width:0.4px">−</text>
<text x="386.9" y="17.50" class="lg" style="font-size:7.6px;font-weight:normal;stroke:#000;stroke-width:0.4px">1</text>
<text x="391.4" y="21.90" class="lg">]</text>
<line x1="267.7" y1="40.1" x2="314" y2="40.1" stroke="#0000ff" stroke-width="1.8"/>
<text transform="translate(320.4,44.00) scale(1.3,1)" class="lg" style="font-size:10px;font-style:italic;font-weight:normal;stroke:#000;stroke-width:0.45px">ω</text>
<text x="330.0" y="46.40" class="lg" style="font-size:8.2px;font-weight:normal;stroke:#000;stroke-width:0.35px">0</text>
<text x="335.3" y="43.70" class="lg">=0.35[fm</text>
<text x="381.5" y="39.30" class="lg" style="font-size:7.6px;font-weight:normal;stroke:#000;stroke-width:0.4px">−</text>
<text x="386.9" y="39.30" class="lg" style="font-size:7.6px;font-weight:normal;stroke:#000;stroke-width:0.4px">1</text>
<text x="391.4" y="43.70" class="lg">]</text>
<line x1="267.7" y1="61.9" x2="314" y2="61.9" stroke="#996633" stroke-width="1.8"/>
<text transform="translate(320.4,65.80) scale(1.3,1)" class="lg" style="font-size:10px;font-style:italic;font-weight:normal;stroke:#000;stroke-width:0.45px">ω</text>
<text x="330.0" y="68.20" class="lg" style="font-size:8.2px;font-weight:normal;stroke:#000;stroke-width:0.35px">0</text>
<text x="335.3" y="65.50" class="lg">=0.55[fm</text>
<text x="381.5" y="61.10" class="lg" style="font-size:7.6px;font-weight:normal;stroke:#000;stroke-width:0.4px">−</text>
<text x="386.9" y="61.10" class="lg" style="font-size:7.6px;font-weight:normal;stroke:#000;stroke-width:0.4px">1</text>
<text x="391.4" y="65.50" class="lg">]</text>
<line x1="267.7" y1="83.8" x2="314" y2="83.8" stroke="#000000" stroke-width="2.0" stroke-dasharray="6.4,2.9"/>
<text transform="translate(320.4,87.70) scale(1.3,1)" class="lg" style="font-size:10px;font-style:italic;font-weight:normal;stroke:#000;stroke-width:0.45px">ω</text>
<text x="330.0" y="90.10" class="lg" style="font-size:8.2px;font-weight:normal;stroke:#000;stroke-width:0.35px">0</text>
<text x="335.3" y="87.40" class="lg">=0.80[fm</text>
<text x="381.5" y="83.00" class="lg" style="font-size:7.6px;font-weight:normal;stroke:#000;stroke-width:0.4px">−</text>
<text x="386.9" y="83.00" class="lg" style="font-size:7.6px;font-weight:normal;stroke:#000;stroke-width:0.4px">1</text>
<text x="391.4" y="87.40" class="lg">]</text>
</svg>
</body></html>
